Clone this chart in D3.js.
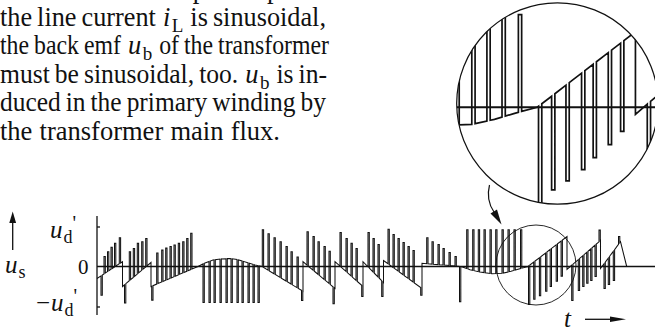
<!DOCTYPE html>
<html><head><meta charset="utf-8">
<script src="https://cdn.jsdelivr.net/npm/d3@7"></script>
<style>
html,body{margin:0;padding:0;background:#fff;}
svg{display:block;}
text{font-family:"Liberation Serif","Times New Roman",Times,serif;fill:#111;}
</style></head><body>
<svg id="fig" width="655" height="333"></svg>
<script>
// Slowly varying part of u_s, as knots (time, value in u_d'); a repeated time is a jump.
const trackT = [0, 25.5, 25.5, 54, 54, 101,
  108, 116, 124, 133, 141, 150, 158, 165,
  206, 206, 238, 238, 266, 266, 286.5, 286.5, 325, 325, 364,
  373, 383, 395, 405, 414, 422, 431,
  470, 470, 503.5, 503.5, 523.5, 529.7];
const trackU = [-0.3, 0.12, -0.5, 0.1, -0.5, 0,
  0.09, 0.16, 0.19, 0.2, 0.17, 0.1, 0.04, 0,
  -0.62, 0.12, -0.55, 0.12, -0.5, 0.12, -0.4, 0.15, -0.55, 0.08, 0,
  -0.08, -0.14, -0.18, -0.17, -0.12, -0.06, 0,
  0.75, -0.07, 0.65, -0.05, 0.62, 0];

// Switching pulses: start time and the level each pulse reaches.
const pulseT = [4, 7, 10.5, 14, 17.5, 22.3, 27.5,
  32.3, 36.3, 40.3, 44.7, 48.7, 54.7,
  59.7, 64.7, 68.7, 73, 77, 81.3, 85.7, 89.7, 93.7,
  106, 112, 117, 123, 129, 134, 140, 145, 151, 156, 161,
  165.3, 171, 177, 183, 189, 194, 200, 204.5,
  210, 216, 221, 227, 232, 236,
  243, 249, 254, 259, 264.7,
  271, 276, 281, 284.7,
  291, 296, 301, 306, 311, 316, 323.7,
  329.7, 335, 341, 346, 352, 358, 362.5,
  369.7, 375.7, 381.3, 387, 393, 398.7, 405, 411, 417, 423.5,
  431.5, 436.7, 442.4, 448.6, 453.2, 459.2, 464.1,
  474.7, 481.3, 485.7, 489.7, 493.7, 498, 502,
  507, 511.3, 516.3, 521.5];
const pulseU = [-0.72, 0.25, 0.37, 0.48, 0.58, 0.72, -0.91,
  0.37, 0.45, 0.58, 0.62, 0.7, -0.84,
  0.34, 0.41, 0.46, 0.5, 0.54, 0.58, 0.62, 0.7, 0.83,
  -0.9, -0.9, -0.9, -0.9, -0.9, -0.9, -0.9, -0.9, -0.9, -0.9, -0.9,
  0.92, 0.82, 0.72, 0.62, 0.5, 0.37, 0.24, -0.85,
  0.87, 0.75, 0.62, 0.5, 0.38, -0.93,
  0.85, 0.7, 0.58, 0.45, -0.75,
  0.85, 0.7, 0.55, -0.75,
  0.93, 0.8, 0.7, 0.6, 0.5, 0.4, -0.72,
  0.72, 0.62, 0.55, 0.45, 0.35, 0.25, -0.88,
  0.92, 0.92, 0.92, 0.92, 0.92, 0.92, 0.92, 0.92, 0.92, 0.92,
  -0.95, -0.82, -0.73, -0.62, -0.5, -0.37, -0.24,
  -0.85, -0.6, -0.5, -0.42, -0.35, -0.25, 0.91,
  -0.55, -0.45, -0.35, 0.75];
const pulseWidth = 1.3;

// Axis marks
const tickValues = [-1, 1];

// Running text above the figure ({a|b} = italic a with subscript b)
const textLines = [
  "which results in a pure input.",
  "the line current {i|L} is sinusoidal,",
  "the back emf {u|b} of the transformer",
  "must be sinusoidal, too. {u|b} is in-",
  "duced in the primary winding by",
  "the transformer main flux."
];
const lineRight = [null, 326, 329, 327, 326, 280];

const svg = d3.select("#fig");
const x = d3.scaleLinear().domain([0, 533]).range([97, 630]);
const y = d3.scaleLinear().domain([-1, 1]).range([306.5, 226.5]);

// ---------- paragraph ----------
const textG = svg.append("g");
const lineBase = d3.scaleLinear().domain([0, 1]).range([-2.4, 26]);
textLines.forEach((ln, li) => {
  const words = ln.split(" ");
  const pads = [];
  const nodes = words.map(w => {
    const t = textG.append("text").attr("y", lineBase(li)).attr("font-size", 26.5);
    const m = w.match(/^\{(.+)\|(.+)\}(.*)$/);
    if (m) {
      t.append("tspan").attr("font-style", "italic").text(m[1]);
      t.append("tspan").attr("font-size", 19).attr("dx", 1.5).attr("dy", 6).text(m[2]);
      if (m[3]) t.append("tspan").attr("dy", -6).text(m[3]);
      pads.push(2);   // room for the italic overhang and the subscript
    } else { t.text(w); pads.push(0); }
    return t;
  });
  let widths = nodes.map(n => n.node().getComputedTextLength() + (n.selectAll("tspan").size() ? 1.5 : 0));
  const right = lineRight[li];
  const minGap = 5;
  let gap = 6.6;
  const padSum = 2 * d3.sum(pads);
  if (right !== null) {
    const total = d3.sum(widths);
    const need = total + padSum + minGap * (words.length - 1);
    if (need > right) {
      // squeeze the plain words slightly so the line still fits its measure
      const plain = d3.sum(widths.filter((w, i) => !pads[i]));
      const f = (right - padSum - minGap * (words.length - 1) - (total - plain)) / plain;
      nodes.forEach((n, i) => {
        if (!pads[i]) n.attr("textLength", widths[i] * f).attr("lengthAdjust", "spacingAndGlyphs");
      });
      widths = widths.map((w, i) => pads[i] ? w : w * f);
      gap = minGap;
    } else gap = (right - total - padSum) / (words.length - 1);
  }
  let cx = 0;
  nodes.forEach((n, i) => {
    n.attr("x", cx + pads[i]);
    cx += widths[i] + 2 * pads[i] + gap;
  });
});

// ---------- waveform geometry ----------
function trackAt(t) {
  for (let i = 0; i < trackT.length - 1; i++) {
    if (t >= trackT[i] && t < trackT[i + 1]) {
      const f = (t - trackT[i]) / (trackT[i + 1] - trackT[i]);
      return trackU[i] + f * (trackU[i + 1] - trackU[i]);
    }
  }
  return trackU[trackU.length - 1];
}
const pulses = pulseT.map((t, i) => ({ t, u: pulseU[i] }));
const pts = [];
let k = 0, p = 0;
while (k < trackT.length || p < pulses.length) {
  if (p < pulses.length && (k >= trackT.length || pulses[p].t < trackT[k])) {
    const P = pulses[p++], t1 = P.t + pulseWidth;
    pts.push([P.t, trackAt(P.t)], [P.t, P.u], [t1, P.u], [t1, trackAt(t1)]);
  } else { pts.push([trackT[k], trackU[k]]); k++; }
}
const line = d3.line().x(d => x(d[0])).y(d => y(d[1]));

function drawPlot(g, sw) {
  g.append("line").attr("x1", x(0)).attr("x2", x(560)).attr("y1", y(0)).attr("y2", y(0))
    .attr("stroke", "#111").attr("stroke-width", sw * 1.2);
  g.append("path").attr("d", line(pts)).attr("fill", "none")
    .attr("stroke", "#111").attr("stroke-width", sw).attr("stroke-linejoin", "miter");
}

// main plot
const plot = svg.append("g");
drawPlot(plot, 1.05);

// vertical axis
plot.append("line").attr("x1", x(0)).attr("x2", x(0)).attr("y1", 216).attr("y2", 315)
  .attr("stroke", "#111").attr("stroke-width", 1.3);
const ax = plot.append("g").attr("transform", `translate(${x(0)},0)`)
  .call(d3.axisRight(y).tickValues(tickValues).tickSize(3).tickSizeOuter(0).tickFormat(""));
ax.select(".domain").remove();
ax.selectAll(".tick line").attr("stroke", "#111").attr("stroke-width", 1.3);

// axis labels
function sym(g, xx, yy, main, sub, extra, size) {
  const t = g.append("text").attr("x", xx).attr("y", yy).attr("font-size", size);
  t.append("tspan").attr("font-style", "italic").text(main);
  t.append("tspan").attr("font-size", size * 0.72).attr("dx", 1).attr("dy", 5).text(sub);
  if (extra) t.append("tspan").attr("font-size", size * 0.8).attr("dy", -13).text(extra);
  return t;
}
sym(svg, 50, y(1) + 11, "u", "d", "'", 25);
const neg = svg.append("text").attr("x", 36).attr("y", y(-1) + 4).attr("font-size", 25);
neg.append("tspan").text("\u2212");
neg.append("tspan").attr("font-style", "italic").attr("dx", 1).text("u");
neg.append("tspan").attr("font-size", 18).attr("dx", 1).attr("dy", 5).text("d");
neg.append("tspan").attr("font-size", 20).attr("dy", -13).text("'");
svg.append("text").attr("x", 78).attr("y", y(0) + 7).attr("font-size", 21).text("0");
sym(svg, 5, 273, "u", "s", null, 25);

// u_s arrow
svg.append("line").attr("x1", 12.7).attr("x2", 12.7).attr("y1", 250).attr("y2", 220)
  .attr("stroke", "#111").attr("stroke-width", 1.3);
svg.append("path").attr("d", "M12.7,211.5 L9.3,223 L16.1,223 Z").attr("fill", "#111");

// t arrow
svg.append("text").attr("x", 564).attr("y", 327).attr("font-size", 25)
  .attr("font-style", "italic").text("t");
svg.append("line").attr("x1", 585).attr("x2", 614).attr("y1", 319.3).attr("y2", 319.3)
  .attr("stroke", "#111").attr("stroke-width", 1.3);
svg.append("path").attr("d", "M626,319.3 L610,316.5 L610,322.1 Z").attr("fill", "#111");

// ---------- magnifier ----------
const small = { cx: 536, cy: 265, r: 40 };
const big = { cx: 557.4, cy: 103.5, r: 100.7 };
const mag = big.r / small.r;
svg.append("circle").attr("cx", small.cx).attr("cy", small.cy).attr("r", small.r)
  .attr("fill", "none").attr("stroke", "#111").attr("stroke-width", 0.9);
svg.append("clipPath").attr("id", "lens").append("circle")
  .attr("cx", big.cx).attr("cy", big.cy).attr("r", big.r);
const lens = svg.append("g").attr("clip-path", "url(#lens)")
  .append("g").attr("transform",
    `translate(${big.cx},${big.cy}) scale(${mag}) translate(${-small.cx},${-small.cy})`);
lens.append("rect").attr("x", small.cx - small.r).attr("y", small.cy - small.r)
  .attr("width", 2 * small.r).attr("height", 2 * small.r).attr("fill", "#fff");
drawPlot(lens, 1.7 / mag);
svg.append("circle").attr("cx", big.cx).attr("cy", big.cy).attr("r", big.r)
  .attr("fill", "none").attr("stroke", "#111").attr("stroke-width", 1.2);

// curved pointer from the lens to the circled region
svg.append("path").attr("d", "M489.5,185 C487,195 488.5,204 494,212")
  .attr("fill", "none").attr("stroke", "#111").attr("stroke-width", 1.2);
svg.append("path").attr("d", "M501.5,224.5 L490.5,213.5 L497,209.5 Z").attr("fill", "#111");
</script>
</body></html>
